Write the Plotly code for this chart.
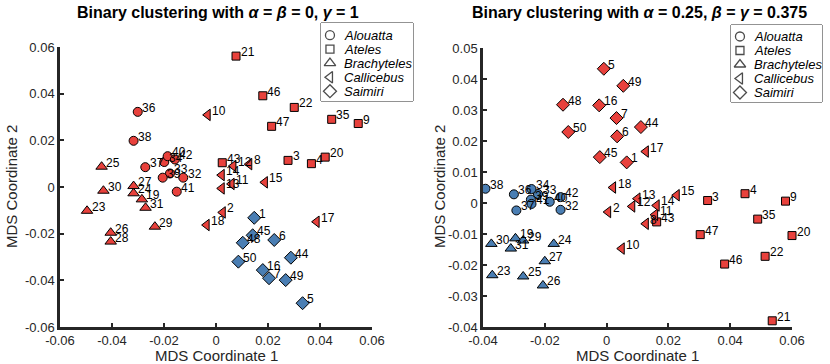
import plotly.graph_objects as go

FONT = "Liberation Sans, Arial, sans-serif"
RED = "#E8413C"
BLUE = "#4A7EB3"
AXIS_COLOR = "#262626"

GENERA = ["Alouatta", "Ateles", "Brachyteles", "Callicebus", "Saimiri"]
SYMBOLS = ["circle", "square", "triangle-up", "triangle-left", "diamond"]
SIZES = [9, 8, 10, 10, 10]

# specimen numbers per genus
alouatta_ids = [32, 33, 34, 36, 37, 38, 39, 40, 41, 42]
ateles_ids = [3, 4, 9, 20, 21, 22, 35, 43, 46, 47]
brachyteles_ids = [19, 23, 24, 25, 26, 27, 28, 29, 30, 31]
callicebus_ids = [2, 8, 10, 11, 12, 13, 14, 15, 17, 18]
saimiri_ids = [1, 5, 6, 7, 16, 44, 45, 48, 49, 50]

# MDS coordinates, specimen 1..50 (alpha = beta = 0, gamma = 1)
left_x = [0.0147, 0.0026, 0.0277, 0.0367, 0.0333, 0.0224, 0.0204, 0.0128, 0.0547, -0.0032,
          0.0060, 0.0067, 0.0022, 0.0022, 0.0188, 0.0180, 0.0387, -0.0036, -0.0285, 0.0420,
          0.0077, 0.0301, -0.0496, -0.0317, -0.0440, -0.0405, -0.0317, -0.0405, -0.0235, -0.0433,
          -0.0271, -0.0126, -0.0177, -0.0199, 0.0445, -0.0301, -0.0272, -0.0317, -0.0205, -0.0186,
          -0.0151, -0.0158, 0.0024, 0.0288, 0.0141, 0.0180, 0.0214, 0.0103, 0.0268, 0.0086]
left_y = [-0.0132, -0.0109, 0.0114, 0.0100, -0.0498, -0.0227, -0.0391, 0.0098, 0.0272, 0.0309,
          0.0013, 0.0090, -0.0006, 0.0051, 0.0020, -0.0356, -0.0149, -0.0163, -0.0053, 0.0128,
          0.0561, 0.0341, -0.0102, -0.0027, 0.0087, -0.0196, 0.0004, -0.0234, -0.0170, -0.0016,
          -0.0089, 0.0040, 0.0058, 0.0107, 0.0290, 0.0322, 0.0085, 0.0198, 0.0040, 0.0132,
          -0.0020, 0.0118, 0.0104, -0.0303, -0.0207, 0.0391, 0.0260, -0.0239, -0.0399, -0.0320]

# MDS coordinates, specimen 1..50 (alpha = 0.25, beta = gamma = 0.375)
right_x = [0.0065, 0.0005, 0.0327, 0.0448, -0.0009, 0.0034, 0.0032, 0.0127, 0.0579, 0.0049,
           0.0157, 0.0083, 0.0100, 0.0162, 0.0227, -0.0024, 0.0127, 0.0021, -0.0295, 0.0600,
           0.0536, 0.0513, -0.0370, -0.0171, -0.0270, -0.0206, -0.0200, -0.0402, -0.0270, -0.0373,
           -0.0310, -0.0149, -0.0222, -0.0243, 0.0489, -0.0300, -0.0292, -0.0392, -0.0245, -0.0184,
           -0.0243, -0.0149, 0.0162, 0.0111, -0.0022, 0.0382, 0.0303, -0.0141, 0.0054, -0.0124]
right_y = [0.0131, -0.0029, 0.0008, 0.0030, 0.0433, 0.0215, 0.0274, -0.0067, 0.0006, -0.0147,
           -0.0038, -0.0011, 0.0014, -0.0008, 0.0025, 0.0315, 0.0166, 0.0050, -0.0114, -0.0105,
           -0.0380, -0.0172, -0.0233, -0.0132, -0.0237, -0.0266, -0.0188, -0.0204, -0.0121, -0.0132,
           -0.0147, -0.0022, 0.0029, 0.0045, -0.0052, 0.0028, -0.0024, 0.0046, 0.0011, 0.0004,
           -0.0003, 0.0019, -0.0061, 0.0245, 0.0148, -0.0197, -0.0102, 0.0317, 0.0378, 0.0229]

# which specimens fell in the second (blue) cluster
left_blue = saimiri_ids
right_blue = alouatta_ids + brachyteles_ids

left_ticks = [-0.06, -0.04, -0.02, 0, 0.02, 0.04, 0.06]
left_ticktext = ["-0.06", "-0.04", "-0.02", "0", "0.02", "0.04", "0.06"]
right_xticks = [-0.04, -0.02, 0, 0.02, 0.04, 0.06]
right_xticktext = ["-0.04", "-0.02", "0", "0.02", "0.04", "0.06"]
right_yticks = [-0.04, -0.03, -0.02, -0.01, 0, 0.01, 0.02, 0.03, 0.04, 0.05]
right_yticktext = ["-0.04", "-0.03", "-0.02", "-0.01", "0", "0.01", "0.02", "0.03", "0.04", "0.05"]

titles = ["<b>Binary clustering with <i>α</i> = <i>β</i> = 0, <i>γ</i> = 1</b>",
          "<b>Binary clustering with <i>α</i> = 0.25, <i>β</i> = <i>γ</i> = 0.375</b>"]
x_title = "MDS Coordinate 1"
y_title = "MDS Coordinate 2"

GENUS_IDS = [alouatta_ids, ateles_ids, brachyteles_ids, callicebus_ids, saimiri_ids]

W, H = 830, 364


def px_x(p):
    return p / W


def px_y(p):
    return 1 - p / H


fig = go.Figure()

panels = [("x", "y", left_x, left_y, left_blue), ("x2", "y2", right_x, right_y, right_blue)]
for xa, ya, xs_all, ys_all, blue in panels:
    for g, ids in enumerate(GENUS_IDS):
        xs = [xs_all[i - 1] for i in ids]
        ys = [ys_all[i - 1] for i in ids]
        fig.add_trace(go.Scatter(
            x=xs, y=ys, mode="markers",
            marker=dict(symbol=SYMBOLS[g], size=SIZES[g],
                        color=[BLUE if i in blue else RED for i in ids],
                        line=dict(color="black", width=1)),
            cliponaxis=False, showlegend=False, name=GENERA[g],
            text=[str(i) for i in ids], hovertemplate="%{text}<extra></extra>",
            xaxis=xa, yaxis=ya,
        ))
        # specimen numbers, up and to the right of each marker
        for i, xv, yv in zip(ids, xs, ys):
            fig.add_annotation(x=xv, y=yv, xref=xa, yref=ya, text=str(i),
                               showarrow=False, xanchor="left", yanchor="middle",
                               xshift=3.5, yshift=4, borderpad=0,
                               font=dict(family=FONT, size=12, color="black"))

# legends drawn on small hidden axes so rows can be packed tightly
for xa, ya in [("x3", "y3"), ("x4", "y4")]:
    fig.add_trace(go.Scatter(
        x=[0] * len(GENERA), y=list(range(len(GENERA))),
        mode="markers",
        marker=dict(symbol=SYMBOLS, size=SIZES, color="white",
                    line=dict(color="black", width=1.3)),
        cliponaxis=False, showlegend=False, hoverinfo="skip",
        xaxis=xa, yaxis=ya,
    ))
    for k, name in enumerate(GENERA):
        fig.add_annotation(x=0.9, y=k, xref=xa, yref=ya, text=f"<i>{name}</i>",
                           showarrow=False, xanchor="left", yanchor="middle", borderpad=0,
                           font=dict(family=FONT, size=13, color="black"))

axis_style = dict(showline=True, linecolor=AXIS_COLOR, linewidth=2.5, mirror=False,
                  ticks="inside", ticklen=4, tickwidth=1.5, tickcolor=AXIS_COLOR,
                  showgrid=False, zeroline=False, automargin=False,
                  tickfont=dict(family=FONT, size=13, color=AXIS_COLOR))
label_font = dict(family=FONT, size=15, color=AXIS_COLOR)

legend_axis = dict(visible=False, fixedrange=True)

fig.update_layout(
    width=W, height=H,
    margin=dict(l=0, r=0, t=0, b=0),
    paper_bgcolor="white", plot_bgcolor="white",
    font=dict(family=FONT),
    xaxis=dict(axis_style, domain=[px_x(60), px_x(372)], range=[-0.06, 0.06], anchor="y",
               tickvals=left_ticks, ticktext=left_ticktext),
    yaxis=dict(axis_style, domain=[px_y(327), px_y(47)], range=[-0.06, 0.06], anchor="x",
               tickvals=left_ticks, ticktext=left_ticktext),
    xaxis2=dict(axis_style, domain=[px_x(483), px_x(792)], range=[-0.04, 0.06], anchor="y2",
                tickvals=right_xticks, ticktext=right_xticktext),
    yaxis2=dict(axis_style, domain=[px_y(327), px_y(48)], range=[-0.04, 0.05], anchor="x2",
                tickvals=right_yticks, ticktext=right_yticktext),
    xaxis3=dict(legend_axis, domain=[px_x(321), px_x(413)], range=[-0.64, 5.93], anchor="y3"),
    yaxis3=dict(legend_axis, domain=[px_y(101), px_y(23)], range=[4.7, -0.87], anchor="x3"),
    xaxis4=dict(legend_axis, domain=[px_x(731), px_x(822)], range=[-0.64, 5.86], anchor="y4"),
    yaxis4=dict(legend_axis, domain=[px_y(102), px_y(25)], range=[4.68, -0.82], anchor="x4"),
    shapes=[
        dict(type="rect", xref="paper", yref="paper", layer="below",
             x0=px_x(321), x1=px_x(413), y0=px_y(101), y1=px_y(23),
             line=dict(color=AXIS_COLOR, width=1), fillcolor="white"),
        dict(type="rect", xref="paper", yref="paper", layer="below",
             x0=px_x(731), x1=px_x(822), y0=px_y(102), y1=px_y(25),
             line=dict(color=AXIS_COLOR, width=1), fillcolor="white"),
    ],
)

# panel titles and axis titles
for k, (cx, yx) in enumerate([(216, 12), (637, 440)]):
    fig.add_annotation(x=px_x(cx + 2), y=px_y(13), xref="paper", yref="paper",
                       text=titles[k], showarrow=False, xanchor="center", yanchor="middle",
                       font=dict(family=FONT, size=16, color="black"))
    fig.add_annotation(x=px_x(cx), y=px_y(355), xref="paper", yref="paper",
                       text=x_title, showarrow=False, xanchor="center", yanchor="middle",
                       font=label_font)
    fig.add_annotation(x=px_x(yx), y=px_y(187), xref="paper", yref="paper",
                       text=y_title, showarrow=False, textangle=-90,
                       xanchor="center", yanchor="middle", font=label_font)

# drop the page's default body margin so the figure sits at the window corner
fig.write_html("out.html", config={"displayModeBar": False},
               post_script="document.body.style.margin = '0';")
